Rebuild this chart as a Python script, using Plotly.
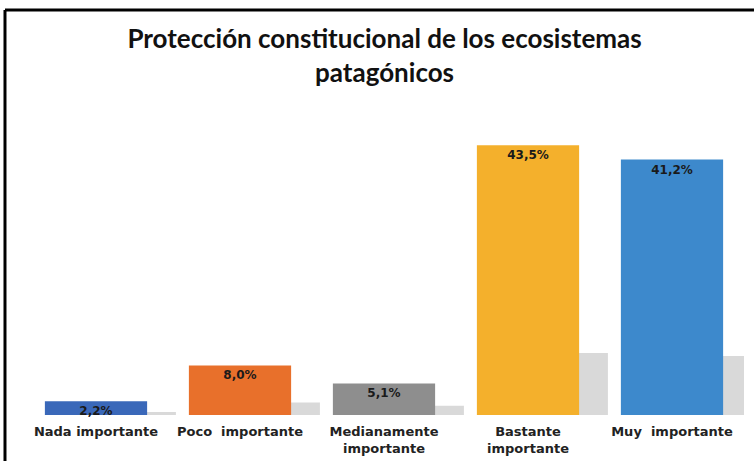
"""
Protección constitucional de los ecosistemas patagónicos - gráfico de barras.
"""

import plotly.graph_objects as go

categorias = [
    "Nada importante",
    "Poco  importante",
    "Medianamente<br>importante",
    "Bastante<br>importante",
    "Muy  importante",
]
porcentajes = [2.2, 8.0, 5.1, 43.5, 41.2]
etiquetas = ["2,2%", "8,0%", "5,1%", "43,5%", "41,2%"]
colores = ["#3a68b9", "#e8702b", "#8e8e8e", "#f4b02c", "#3d89cc"]
# altura aproximada de la sombra gris detrás de cada barra
sombras = [0.5, 2.0, 1.5, 10.0, 9.5]

fuente = "DejaVu Sans"

fig = go.Figure()

# Sombra desplazada (efecto 3D de Excel)
fig.add_trace(
    go.Bar(
        x=categorias,
        y=sombras,
        width=0.71,
        offset=-0.155,
        marker=dict(color="rgba(208,208,208,0.8)", line=dict(width=0)),
        hoverinfo="skip",
        showlegend=False,
    )
)

fig.add_trace(
    go.Bar(
        x=categorias,
        y=porcentajes,
        width=0.71,
        offset=-0.355,
        marker=dict(color=colores, line=dict(width=0)),
        text=etiquetas,
        textposition="inside",
        insidetextanchor="end",
        constraintext="none",
        cliponaxis=False,
        textfont=dict(family=fuente, size=12, color="#1a1a1a", weight="bold"),
        showlegend=False,
    )
)

fig.update_layout(
    width=754,
    height=461,
    barmode="overlay",
    plot_bgcolor="white",
    paper_bgcolor="white",
    margin=dict(l=24, r=10, t=136, b=46),
    title=dict(
        text="Protección constitucional de los ecosistemas<br>patagónicos",
        x=0.51,
        xanchor="center",
        y=0.895,
        yanchor="top",
        font=dict(family="Lato", size=26, color="#111111", weight="bold"),
    ),
    xaxis=dict(
        range=[-0.5, 4.5],
        automargin=False,
        showgrid=False,
        showline=False,
        ticks="",
        ticklabelstandoff=7,
        tickfont=dict(family=fuente, size=13, color="#222222", weight="bold"),
    ),
    yaxis=dict(visible=False, range=[0, 45]),
    shapes=[
        # marco del gráfico
        dict(type="line", xref="paper", yref="paper", x0=-0.0264, x1=1.02,
             y0=1.4516, y1=1.4516, line=dict(color="black", width=3)),
        dict(type="line", xref="paper", yref="paper", x0=-0.0264, x1=-0.0264,
             y0=1.4516, y1=-0.2, line=dict(color="black", width=3)),
    ],
)

# quitar el margen por defecto del <body> para que el gráfico empiece en (0, 0)
fig.write_html(
    "out.html",
    config={"displayModeBar": False},
    post_script="document.body.style.margin = '0';",
)
